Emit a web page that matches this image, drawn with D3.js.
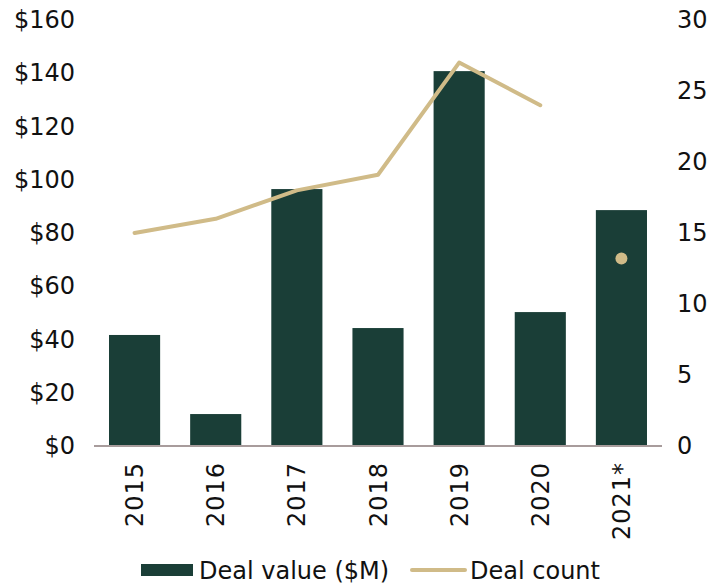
<!DOCTYPE html>
<html>
<head>
<meta charset="utf-8">
<script src="https://cdn.jsdelivr.net/npm/d3@7"></script>
<style>
  body { margin: 0; background: #fff; }
  text { font-family: "DejaVu Sans", sans-serif; fill: #111; }
</style>
</head>
<body>
<div id="chart"></div>
<script>
const years = ["2015", "2016", "2017", "2018", "2019", "2020", "2021*"];
const dealValue = [41.7, 12, 96.5, 44.3, 140.8, 50.3, 88.6];
// deal count: joined line for 2015-2020, lone dot for 2021*
const lineYears = ["2015", "2016", "2017", "2018", "2019", "2020"];
const lineCounts = [15, 16, 18, 19.1, 27, 24];
const dotYears = ["2021*"];
const dotCounts = [13.2];
const leftTicks = [0, 20, 40, 60, 80, 100, 120, 140, 160];
const rightTicks = [0, 5, 10, 15, 20, 25, 30];

const width = 726, height = 584;
const margin = {top: 20, right: 64, bottom: 138, left: 94};
const barColor = "#1a3e37", lineColor = "#d0bb88";
const fontSize = "24px";

let svg = d3.select("#chart")
    .append("svg")
    .attr("width", width)
    .attr("height", height);

let g = svg.append("g")
    .attr("transform", `translate(${margin.left},${margin.top})`);

const w = width - margin.left - margin.right;
const h = height - margin.top - margin.bottom;

let x = d3.scaleBand()
    .domain(years)
    .range([0, w])
    .paddingInner(0.37)
    .paddingOuter(0.185);

let yLeft = d3.scaleLinear().domain([0, 160]).range([h, 0]);
let yRight = d3.scaleLinear().domain([0, 30]).range([h, 0]);

// bars
g.selectAll("rect.bar")
    .data(years)
    .enter()
    .append("rect")
    .attr("class", "bar")
    .attr("x", d => x(d))
    .attr("y", (d, i) => yLeft(dealValue[i]))
    .attr("width", x.bandwidth())
    .attr("height", (d, i) => h - yLeft(dealValue[i]))
    .attr("fill", barColor);

// baseline
g.append("line")
    .attr("x1", 0).attr("x2", w)
    .attr("y1", h).attr("y2", h)
    .attr("stroke", "#a89c9c")
    .attr("stroke-width", 2);

// left axis
let axL = g.append("g")
    .call(d3.axisLeft(yLeft).tickValues(leftTicks).tickSize(0).tickPadding(19)
        .tickFormat(d => "$" + d));
axL.select(".domain").remove();
axL.selectAll("text").style("font-size", fontSize).attr("fill", "#111");

// right axis
let axR = g.append("g")
    .attr("transform", `translate(${w},0)`)
    .call(d3.axisRight(yRight).tickValues(rightTicks).tickSize(0).tickPadding(15));
axR.select(".domain").remove();
axR.selectAll("text").style("font-size", fontSize).attr("fill", "#111");

// x labels
g.selectAll("text.xlab")
    .data(years)
    .enter()
    .append("text")
    .attr("class", "xlab")
    .attr("transform", d => `translate(${x(d) + x.bandwidth() / 2},${h + 16}) rotate(-90)`)
    .attr("dy", "0.36em")
    .style("text-anchor", "end")
    .style("font-size", fontSize)
    .style("letter-spacing", "1px")
    .text(d => d);

// line
let line = d3.line()
    .x((d, i) => x(lineYears[i]) + x.bandwidth() / 2)
    .y(d => yRight(d));

g.append("path")
    .datum(lineCounts)
    .attr("d", line)
    .attr("fill", "none")
    .attr("stroke", lineColor)
    .attr("stroke-width", 4)
    .attr("stroke-linecap", "round")
    .attr("stroke-linejoin", "round");

g.selectAll("circle.dot")
    .data(dotCounts)
    .enter()
    .append("circle")
    .attr("class", "dot")
    .attr("cx", (d, i) => x(dotYears[i]) + x.bandwidth() / 2)
    .attr("cy", d => yRight(d))
    .attr("r", 6)
    .attr("fill", lineColor);

// legend
let legend = svg.append("g").attr("transform", "translate(141,570)");
legend.append("rect")
    .attr("x", 0).attr("y", -6)
    .attr("width", 52).attr("height", 12)
    .attr("fill", barColor);
legend.append("text")
    .attr("x", 58).attr("y", 0).attr("dy", "0.36em")
    .style("font-size", fontSize)
    .text("Deal value ($M)");
legend.append("line")
    .attr("x1", 271).attr("x2", 324)
    .attr("y1", 0).attr("y2", 0)
    .attr("stroke", lineColor)
    .attr("stroke-width", 4)
    .attr("stroke-linecap", "round");
legend.append("text")
    .attr("x", 329).attr("y", 0).attr("dy", "0.36em")
    .style("font-size", fontSize)
    .text("Deal count");
</script>
</body>
</html>
